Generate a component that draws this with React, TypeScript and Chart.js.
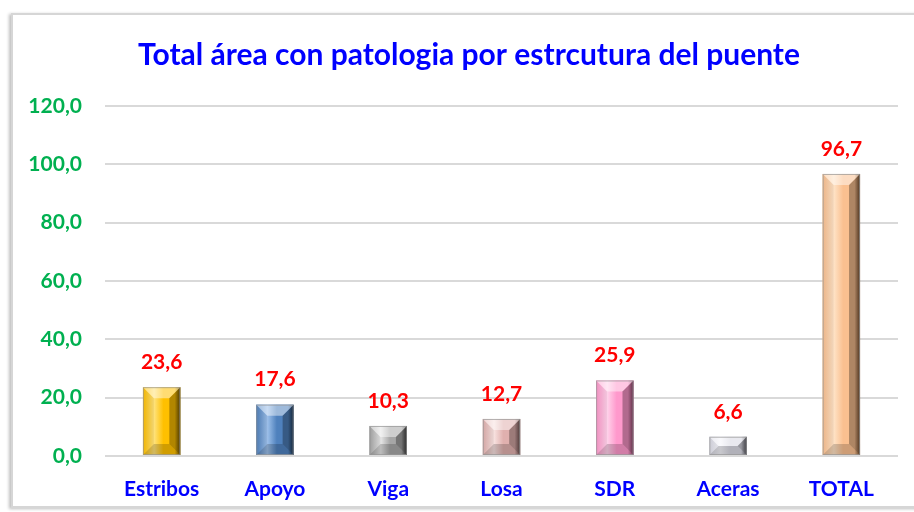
import React, { useEffect, useRef } from "react";
import { Chart, registerables } from "chart.js";

Chart.register(...registerables);

const categories = ["Estribos", "Apoyo", "Viga", "Losa", "SDR", "Aceras", "TOTAL"];
const values = [23.6, 17.6, 10.3, 12.7, 25.9, 6.6, 96.7];
const baseColors = ["#FFC000", "#4F81BD", "#A6A6A6", "#E0B0AE", "#FF99CC", "#D8D8E2", "#FAC090"];
const lightColors = ["#FFE27A", "#9DC0EA", "#E6E6E6", "#F8E2E0", "#FFD2EA", "#F4F4FA", "#FFE3C6"];
const darkColors = ["#6E5200", "#1E3755", "#3A3A3A", "#6E5250", "#8A4468", "#55555E", "#6E4A2C"];
const yTicks = { min: 0, max: 120, step: 20 };
const title = "Total área con patologia por estrcutura del puente";

const FONT = "Lato, 'Liberation Sans', sans-serif";
const fmt = (v: number) => v.toFixed(1).replace(".", ",");

const bevelPlugin = {
  id: "bevel",
  afterDatasetsDraw(chart: any) {
    const ctx = chart.ctx;
    const meta = chart.getDatasetMeta(0);
    meta.data.forEach((el: any, i: number) => {
      const { x, y, base, width } = el.getProps(["x", "y", "base", "width"], true);
      const l = x - width / 2;
      const r = x + width / 2;
      const t = Math.min(y, base);
      const b = Math.max(y, base);
      const h = b - t;
      const bv = Math.min(11, h / 2, width / 2.5);
      ctx.save();
      const g = ctx.createLinearGradient(l, 0, r, 0);
      g.addColorStop(0, baseColors[i]);
      g.addColorStop(0.3, lightColors[i]);
      g.addColorStop(0.55, baseColors[i]);
      g.addColorStop(0.85, baseColors[i]);
      g.addColorStop(1, darkColors[i]);
      ctx.fillStyle = g;
      ctx.fillRect(l, t, width, h);
      const poly = (pts: number[][], fill: string) => {
        ctx.beginPath();
        ctx.moveTo(pts[0][0], pts[0][1]);
        for (let k = 1; k < pts.length; k++) ctx.lineTo(pts[k][0], pts[k][1]);
        ctx.closePath();
        ctx.fillStyle = fill;
        ctx.fill();
      };
      const sb = Math.min(bv, width / 2.5);
      poly([[l, t], [r, t], [r - sb, t + bv], [l + sb, t + bv]], "rgba(255,255,255,0.45)");
      poly([[l, t], [l + sb, t + bv], [l + sb, b - bv], [l, b]], "rgba(0,0,0,0.05)");
      poly([[r, t], [r - sb, t + bv], [r - sb, b - bv], [r, b]], "rgba(0,0,0,0.3)");
      poly([[l, b], [l + sb, b - bv], [r - sb, b - bv], [r, b]], "rgba(0,0,0,0.18)");
      ctx.strokeStyle = "rgba(150,150,150,0.7)";
      ctx.lineWidth = 1;
      ctx.strokeRect(l + 0.5, t + 0.5, width - 1, h - 1);
      ctx.fillStyle = "#FF0000";
      ctx.font = `bold 21px ${FONT}`;
      ctx.textAlign = "center";
      ctx.textBaseline = "middle";
      ctx.fillText(fmt(values[i]), x, t - 25);
      ctx.restore();
    });
  },
  afterDraw(chart: any) {
    const ctx = chart.ctx;
    ctx.save();
    ctx.fillStyle = "#0000FF";
    ctx.font = `bold 30px ${FONT}`;
    ctx.textAlign = "center";
    ctx.textBaseline = "middle";
    ctx.fillText(title, 469, 55);
    ctx.restore();
  },
};

export default function App() {
  const ref = useRef<HTMLCanvasElement>(null);
  useEffect(() => {
    if (!ref.current) return;
    const chart = new Chart(ref.current, {
      type: "bar",
      data: {
        labels: categories,
        datasets: [
          {
            data: values,
            backgroundColor: baseColors,
            barPercentage: 0.33,
            categoryPercentage: 1,
          },
        ],
      },
      plugins: [bevelPlugin],
      options: {
        animation: false,
        responsive: false,
        layout: { padding: { left: 0, right: 16, top: 106, bottom: 0 } },
        plugins: {
          legend: { display: false },
          tooltip: { enabled: false },
          title: { display: false },
        },
        scales: {
          x: {
            grid: { display: false, drawTicks: false },
            border: { display: false },
            ticks: {
              color: "#0000FF",
              font: { family: FONT, size: 21, weight: "bold" },
              padding: 21,
              maxRotation: 0,
            },
            afterFit: (s: any) => {
              s.height = 56;
            },
          },
          y: {
            min: yTicks.min,
            max: yTicks.max,
            grid: { color: "#D9D9D9", lineWidth: 2, drawTicks: false },
            border: { display: false },
            ticks: {
              stepSize: yTicks.step,
              color: "#00B050",
              font: { family: FONT, size: 21, weight: "bold" },
              padding: 23,
              callback: (v: any) => fmt(Number(v)),
            },
            afterFit: (s: any) => {
              s.width = 105;
            },
          },
        },
      },
    } as any);
    return () => chart.destroy();
  }, []);
  return (
    <div style={{ position: "absolute", left: 0, top: 0, width: 914, height: 512, background: "#fff", overflow: "hidden" }}>
      <div
        style={{
          position: "absolute",
          left: 11,
          top: 13,
          width: 910,
          height: 491,
          border: "2px solid #D6D6D6",
          boxShadow: "-2px 1px 3px rgba(0,0,0,0.25)",
        }}
      />
      <canvas ref={ref} width={914} height={512} style={{ position: "absolute", left: 0, top: 0 }} />
    </div>
  );
}
